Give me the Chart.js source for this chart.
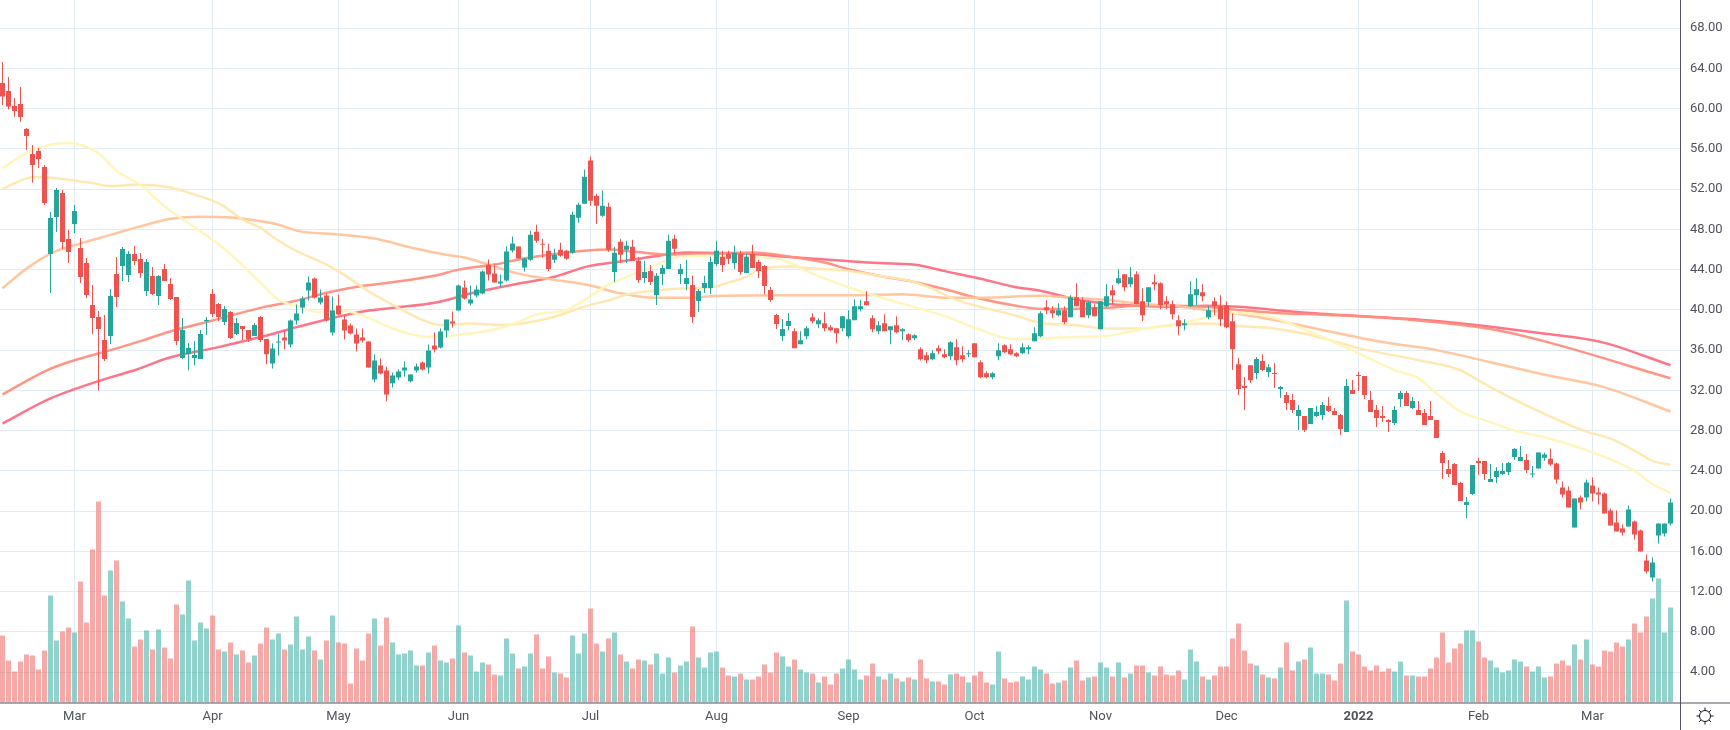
<!DOCTYPE html>
<html>
<head>
<meta charset="utf-8">
<script src="https://cdn.jsdelivr.net/npm/chart.js@4"></script>
<style>
  html, body { margin: 0; padding: 0; background: #fff; }
  #wrap { position: relative; width: 1730px; height: 730px; overflow: hidden; }
  canvas { display: block; }
  #gear { position: absolute; left: 1696px; top: 707px; }
</style>
</head>
<body>
<div id="wrap">
  <canvas id="chart" width="1730" height="730"></canvas>
  <svg id="gear" width="18" height="18" viewBox="0 0 18 18" fill="none" stroke="#131722" stroke-width="1">
    <circle cx="9" cy="9" r="5.5"/>
    <path d="M9 0.5V3.5M9 14.5V17.5M0.5 9H3.5M14.5 9H17.5M3 3L5.1 5.1M12.9 12.9L15 15M3 15L5.1 12.9M12.9 5.1L15 3"/>
  </svg>
</div>
<script>
// candles, one entry per trading day
const opens = [
  62.54,61.75,60.26,60.46,57.97,55.49,55.79,54.2,45.56,49.23,
  51.62,47.05,48.54,46.15,44.66,40.49,39.3,37.01,37.41,43.57,
  44.36,43.47,45.56,45.06,41.88,43.37,41.38,44.07,42.58,41.28,
  35.22,35.62,35.22,35.13,38.9,41.58,40.59,38.8,39.8,37.6,
  38.4,38.0,37.4,39.3,37.1,34.68,36.76,37.26,36.56,38.95,
  40.24,41.93,43.12,40.74,41.43,37.75,40.44,39.05,38.45,37.56,
  37.26,36.86,33.09,34.48,33.98,32.7,33.28,33.98,32.9,33.98,
  34.77,34.28,36.46,36.27,37.95,38.85,39.94,42.22,40.64,41.43,
  41.63,44.51,43.62,42.62,42.92,45.9,46.3,44.21,44.97,47.76,
  46.56,45.87,44.97,45.97,45.87,45.67,49.16,50.55,54.84,51.35,
  49.36,50.25,43.77,46.76,45.97,46.27,44.87,43.18,43.87,41.48,
  43.57,44.07,47.06,43.57,42.58,42.48,40.88,42.18,42.18,44.57,
  45.27,45.57,44.67,45.57,43.67,45.57,44.77,44.37,41.98,39.49,
  37.4,38.39,37.87,36.58,37.38,39.26,38.57,38.67,38.27,38.17,
  38.17,37.38,38.97,40.06,40.85,39.17,37.87,38.67,37.97,38.47,
  37.87,37.58,37.18,36.09,35.49,35.09,36.19,35.59,35.39,36.28,
  35.49,35.59,36.68,34.8,33.7,33.3,35.39,36.48,36.09,35.69,
  35.69,36.09,36.88,37.38,40.26,39.97,39.47,39.97,39.27,41.26,
  40.96,39.47,40.26,38.08,40.36,41.95,42.64,43.54,42.55,43.54,
  40.86,40.76,42.74,42.64,40.86,40.56,38.98,38.48,40.36,41.45,
  41.75,39.27,40.86,40.36,40.46,38.88,34.61,32.43,34.51,33.72,
  34.91,33.82,33.72,32.13,31.54,31.04,29.45,29.45,28.66,29.45,
  29.55,30.44,29.95,29.55,27.86,32.03,33.52,33.42,31.04,30.05,
  29.45,29.05,28.75,31.14,31.74,30.25,30.05,29.75,29.45,29.05,
  25.77,24.19,24.68,22.79,20.61,21.7,24.98,24.98,22.89,23.39,
  23.69,23.89,25.38,24.98,25.08,23.65,24.23,25.32,25.2,24.73,
  22.34,22.05,18.37,21.35,21.35,22.54,21.85,21.75,20.06,18.87,
  18.27,18.47,18.97,18.07,15.09,13.4,17.58,17.77,18.77
];
const closes = [
  61.19,60.2,59.76,59.17,57.28,54.4,54.99,50.62,49.13,51.91,
  46.75,45.76,49.83,43.27,41.48,39.2,38.1,35.13,41.38,41.28,
  46.05,45.56,44.86,43.67,44.76,41.58,43.37,42.87,41.09,36.91,
  38.0,36.22,35.52,37.6,39.0,39.6,39.3,40.09,37.2,38.7,
  38.1,37.1,38.5,37.0,35.6,36.17,36.86,36.96,38.95,39.64,
  41.13,42.72,41.23,41.23,38.95,39.94,39.54,37.95,37.66,36.66,
  36.96,34.28,34.97,33.68,31.6,33.48,33.88,34.28,33.58,34.38,
  34.08,35.97,36.07,37.85,39.05,38.65,42.42,41.13,41.03,42.03,
  43.81,43.52,42.72,42.82,45.8,46.6,45.11,45.11,47.46,46.86,
  46.47,44.07,45.47,45.37,45.07,49.46,50.45,53.24,50.85,50.35,
  50.35,45.97,45.67,45.47,46.37,44.87,42.98,43.77,42.78,43.38,
  44.17,46.86,46.07,44.07,43.18,39.29,41.88,42.68,44.77,45.87,
  44.47,45.07,45.67,43.77,45.27,44.17,43.87,42.38,40.98,38.59,
  38.09,38.89,36.19,36.98,38.17,38.87,38.97,38.17,37.97,37.68,
  39.36,39.07,40.36,40.36,40.46,38.07,38.47,37.87,38.37,37.77,
  38.07,36.98,37.48,35.09,34.99,35.69,35.89,35.29,36.78,34.99,
  35.09,35.69,35.29,33.3,33.3,33.7,35.99,35.79,35.59,35.39,
  36.28,36.28,37.68,39.66,39.96,39.67,39.97,38.78,41.26,40.36,
  39.27,40.76,39.37,40.86,41.36,41.45,43.14,42.25,43.24,40.56,
  39.47,42.25,42.55,40.46,40.56,39.57,38.38,38.68,41.55,42.05,
  41.36,39.97,40.36,39.07,38.28,36.1,32.13,32.23,33.02,35.11,
  34.02,34.31,33.62,32.33,30.74,30.05,30.05,28.06,30.25,29.85,
  30.54,29.95,29.55,28.16,32.43,31.64,33.42,31.54,29.85,29.25,
  29.25,28.85,30.05,31.74,30.44,30.94,29.55,28.56,29.05,27.26,
  24.78,23.69,22.6,21.01,20.91,24.58,24.78,23.69,23.19,23.99,
  23.99,24.78,26.17,25.38,24.09,23.75,25.82,25.62,24.63,23.14,
  21.65,20.36,21.25,20.85,22.84,21.75,21.65,19.76,18.57,17.97,
  17.87,20.16,17.68,15.99,14.0,14.89,18.77,18.77,20.85
];
const highs = [
  64.63,63.14,61.05,62.15,58.07,56.38,56.09,54.4,49.73,52.11,
  51.91,47.94,50.42,47.15,45.16,42.48,39.89,39.5,42.08,45.26,
  46.25,45.85,46.35,45.66,45.06,44.26,43.47,44.56,43.17,41.28,
  39.2,36.72,36.91,38.0,39.3,42.08,40.69,40.39,39.89,39.2,
  38.4,38.0,38.7,39.4,37.1,36.66,37.66,37.95,39.05,40.54,
  41.33,43.32,43.22,42.03,41.63,41.33,41.53,39.44,38.65,38.15,
  38.15,36.86,35.57,35.17,34.38,33.78,34.1,34.87,33.6,34.68,
  34.87,36.56,37.75,38.15,39.05,39.84,42.52,42.92,42.42,42.42,
  43.91,45.01,44.51,43.52,46.3,47.29,46.3,45.21,47.86,48.46,
  47.06,46.56,46.07,46.66,45.97,49.75,50.65,53.94,55.24,51.55,
  51.85,50.65,46.27,47.06,46.86,46.96,45.27,44.87,44.47,43.67,
  44.47,47.46,47.46,44.57,44.97,43.38,42.08,43.38,45.27,46.86,
  45.87,45.87,46.37,45.87,45.57,46.47,44.97,44.47,42.28,39.59,
  39.09,39.69,38.17,37.87,38.37,39.66,39.17,39.76,38.47,38.17,
  39.36,39.96,41.05,40.95,41.85,39.46,38.87,39.56,38.37,39.36,
  38.17,37.68,37.58,36.28,35.79,35.99,36.48,36.09,36.88,37.08,
  36.38,35.99,36.68,35.0,33.9,33.8,36.68,36.58,36.58,35.79,
  36.68,36.48,38.27,39.86,40.95,40.36,40.66,40.36,41.45,42.64,
  41.26,40.86,40.56,40.86,42.55,42.45,44.03,43.54,44.23,43.83,
  42.15,42.25,43.54,42.74,41.36,40.96,39.47,39.07,42.84,43.14,
  42.55,40.36,41.26,41.45,40.86,39.67,35.21,33.32,34.51,35.31,
  35.6,34.61,34.71,32.43,31.83,31.64,30.54,29.45,30.25,30.44,
  30.84,31.34,30.25,29.65,33.13,33.03,33.85,33.42,31.93,30.54,
  30.44,29.15,30.44,31.93,31.93,31.34,30.94,30.15,30.94,29.05,
  25.97,25.08,24.78,22.89,21.4,24.58,25.28,24.98,24.68,24.38,
  24.78,24.88,26.27,26.47,25.68,24.5,25.82,25.82,26.22,24.83,
  22.94,22.44,21.25,21.55,23.14,23.34,22.34,21.85,20.26,20.06,
  18.67,20.56,19.07,18.17,15.69,15.39,18.77,18.77,21.25
];
const lows = [
  60.36,59.9,59.2,58.7,55.89,52.64,54.1,50.42,41.68,47.74,
  46.05,44.66,47.64,42.68,41.19,37.61,32.0,34.93,36.62,40.29,
  42.87,42.77,44.46,43.17,41.38,41.48,40.49,42.87,40.99,36.52,
  35.12,34.0,34.5,35.13,37.5,39.3,38.9,38.5,37.1,37.5,
  37.0,36.8,37.4,36.8,34.6,34.18,35.47,36.07,36.27,38.55,
  39.64,40.93,41.13,40.54,38.85,37.46,39.44,37.06,37.56,35.87,
  36.76,34.28,32.8,33.58,30.9,32.3,33.0,33.38,32.8,33.78,
  33.98,33.68,35.77,36.17,37.26,38.25,39.94,41.03,40.44,41.23,
  41.53,42.92,42.72,42.22,42.82,45.7,45.11,43.81,44.87,46.66,
  45.17,43.87,44.67,45.27,44.97,45.57,48.66,50.55,50.35,48.56,
  49.26,45.77,42.78,44.67,44.67,44.87,42.68,42.68,42.48,40.48,
  42.48,44.07,45.57,42.58,41.98,38.69,39.79,41.68,41.58,44.37,
  43.77,44.57,44.07,43.48,43.67,44.17,43.18,41.58,40.78,38.09,
  36.9,37.99,36.19,36.58,37.08,38.67,38.17,37.87,37.87,36.68,
  37.87,37.18,38.97,39.86,40.46,37.77,37.58,37.87,36.58,37.68,
  36.98,36.78,36.98,34.98,34.7,35.0,35.59,35.19,34.99,34.5,
  34.8,35.29,35.29,33.2,33.2,33.1,34.99,35.69,35.49,35.29,
  35.59,35.59,36.88,37.28,39.56,39.17,39.37,38.58,39.27,40.36,
  39.27,39.17,39.37,38.08,40.26,40.56,42.55,41.85,42.25,40.56,
  38.88,40.36,41.95,40.07,40.07,39.07,37.49,37.98,40.26,40.46,
  40.86,39.07,39.47,38.38,38.18,34.02,31.54,30.05,32.73,33.12,
  33.92,33.32,32.23,31.24,30.05,29.75,28.06,27.86,28.66,29.35,
  29.05,29.85,29.55,27.56,27.86,31.64,31.93,31.14,29.85,28.36,
  28.85,27.86,28.56,30.34,30.44,30.15,29.55,28.56,29.05,27.26,
  23.19,23.39,22.6,21.01,19.32,21.6,23.59,23.09,22.89,22.79,
  23.59,23.59,25.08,24.98,23.79,23.35,24.23,25.0,24.5,22.74,
  21.35,20.36,18.37,20.16,20.95,20.95,20.66,19.76,18.57,17.97,
  17.58,18.47,17.18,15.99,13.8,13.0,16.78,17.48,18.57
];
const volumes = [
  6.7,4.2,3.1,4.1,4.8,4.7,3.3,5.2,10.7,6.2,
  7.1,7.5,7.0,12.1,8.0,15.3,20.1,10.7,13.2,14.2,
  10.1,8.4,5.6,6.3,7.2,5.3,7.3,5.5,4.4,9.8,
  8.8,12.2,6.2,8.0,7.4,8.7,5.3,5.1,6.0,4.8,
  5.2,4.0,4.7,5.9,7.5,6.3,6.9,5.3,5.8,8.6,
  5.3,6.6,5.2,4.3,6.2,8.7,6.0,5.9,1.9,5.4,
  4.2,6.9,8.4,5.7,8.5,6.0,4.8,4.9,5.2,3.7,
  3.7,5.0,5.7,4.2,4.0,4.4,7.7,5.0,4.7,3.1,
  4.0,3.8,2.8,2.7,6.4,4.9,3.4,3.6,4.9,6.8,
  3.4,4.6,3.0,2.9,2.5,6.7,4.9,6.9,9.4,5.9,
  5.1,6.4,7.0,4.8,4.1,3.4,4.3,4.2,3.8,4.9,
  2.9,4.5,3.0,3.7,4.1,7.6,4.5,3.5,5.0,5.1,
  3.5,2.7,2.6,2.9,2.3,2.3,2.6,3.8,3.0,5.0,
  4.6,3.6,4.3,3.3,3.0,2.9,2.0,2.6,1.8,2.9,
  3.4,4.3,3.3,2.3,2.7,3.9,2.6,2.3,2.9,2.4,
  2.1,2.5,2.3,4.3,2.4,2.1,2.1,1.8,2.8,2.9,
  2.6,2.0,2.7,3.1,2.0,1.8,5.1,2.4,2.0,2.1,
  2.6,2.3,3.6,3.3,2.9,1.9,2.0,2.2,3.5,4.2,
  2.2,2.5,2.6,4.0,3.5,2.6,4.0,2.5,2.9,3.7,
  3.7,3.0,2.7,3.6,2.8,2.7,3.2,2.3,5.3,4.1,
  2.6,2.3,2.7,3.6,3.6,6.4,7.9,5.2,3.9,3.7,
  2.8,2.5,2.4,3.5,6.0,3.2,4.1,4.3,5.5,2.9,
  2.9,2.8,2.2,3.9,10.2,5.1,4.8,3.6,3.2,3.7,
  3.1,3.4,3.1,4.1,2.7,2.7,2.6,2.6,3.4,4.5,
  7.0,4.0,5.4,5.9,7.2,7.2,6.1,4.5,4.2,3.5,
  3.0,3.2,4.3,4.1,3.6,3.1,3.6,2.5,2.6,3.9,
  4.2,3.7,5.8,4.3,6.3,3.8,3.6,5.2,5.1,6.0,
  5.6,6.3,7.9,7.0,8.6,10.4,12.4,7.0,9.5
];

const maLight = [[0,54.07],[4,55.6],[8,56.4],[11,56.58],[16,55.56],[19,53.83],[23,52.4],[27,50.3],[33,47.8],[37.5,45.8],[43,42.7],[46,41.0],[49,40.4],[52.5,39.8],[57,39.9],[61,39.2],[65,38.15],[71,37.3],[76,37.5],[82,38.05],[86,38.8],[89,39.55],[94,40],[97.4,41.15],[101,42.5],[105,43.5],[109,44.5],[113,45.3],[117.5,45.37],[121,45.3],[129,45.1],[135,43.6],[140.7,42.3],[146,41.3],[151.8,40.3],[157.4,39.3],[163,38],[168.5,37.1],[173,37.15],[178.5,37.3],[184,37.4],[189.5,38.05],[195,38.5],[200.5,39.2],[206,39.7],[212,39.2],[218,37.8],[226,35.7],[232,34.02],[236,33.2],[238.6,31.9],[243,29.9],[247,29.05],[252,28],[257,27.35],[265,25.85],[272,24],[275,22.7],[278,21.8]];
const maYellow = [[0,52],[4,53.07],[5.7,53.2],[9.6,53.04],[15,52.6],[18,52.3],[22,52.44],[27.5,52.2],[31,51.65],[36.3,50.5],[40.2,48.9],[43,48.15],[45.7,47],[49,45.85],[54,44.5],[57.3,43.35],[61,41.85],[65.7,40.3],[70,39],[73,38.5],[78,38.65],[83,38.5],[86,38.6],[91.8,39.3],[97.4,40.4],[100.7,40.9],[104.6,41.6],[108.5,41.9],[114,42.15],[117.4,42.2],[120.7,42.65],[124,43.3],[126,44],[131.3,44.3],[135,44.1],[140.7,43.9],[146,43.4],[151.8,42.8],[155,42.1],[158.5,41.1],[163,40.3],[168.5,39.5],[173,38.7],[178.5,38.5],[184,38.15],[189.5,38.15],[195,38.5],[200.5,38.65],[206,38.4],[212,38.15],[218,37.5],[226,36.2],[236,35],[243,34],[246,33],[249,32],[254,30.5],[263.5,28],[268,27.2],[272.5,25.85],[275,25],[278,24.6]];
const maPeach = [[0,42.15],[4,44.1],[8,45.6],[13,46.6],[18,47.45],[23,48.3],[28,49.05],[33,49.25],[38.5,49.15],[43,48.8],[45.7,48.5],[49.6,47.8],[56,47.5],[62,47.1],[68,46.2],[74.7,45.4],[77,45.2],[81,44.5],[86,43.6],[91.8,43],[97.4,42.5],[103,41.65],[108.5,41.2],[114,41.2],[119.6,41.4],[131,41.45],[140.7,41.45],[150,41.55],[157.4,41.2],[163,41.2],[173,41.4],[178.5,41.2],[184,41],[189.5,40.6],[195,40.4],[200.5,40],[206,39.6],[212,39],[218,38.25],[230,36.8],[239,36],[248,34.8],[257.5,33.5],[266.5,32.4],[278,29.9]];
const maCoral = [[0,31.6],[7.4,34],[12,35],[18,36],[23.5,37],[28.5,37.95],[35,38.95],[43,40.2],[48.5,40.85],[54,41.7],[59.6,42.35],[65,42.75],[72.4,43.45],[76,44],[82,44.5],[86,45],[89,45.3],[97.4,45.9],[101,46],[105,45.8],[110.7,45.5],[119.6,45.6],[125,45.7],[131,45.3],[137,44.7],[140.7,44.1],[146,43.4],[151.8,42.8],[157.4,42],[163,41.1],[168.5,40.45],[173,40.1],[178.5,40.1],[184,40.2],[189.5,40.4],[195,40.4],[200.5,40.3],[206,40],[212,39.7],[221,39.5],[235,39],[248,38.1],[257.5,36.8],[278,33.2]];
const maPink = [[0,28.7],[8,31.2],[18,33.3],[22,34],[27.5,35.2],[36,36.3],[43,37.3],[48.5,38.2],[54,39.05],[59.6,39.8],[65,40.2],[72,40.7],[78.5,41.7],[85,42.5],[92,43.3],[97.4,44.3],[103,44.8],[108.5,45.3],[114,45.7],[120,45.65],[125,45.55],[130,45.3],[140.7,44.85],[146,44.65],[151.8,44.5],[157.4,43.8],[163,43.1],[168.5,42.3],[173,41.9],[178.5,41.1],[184,40.6],[189.5,40.4],[195,40.3],[200.5,40.4],[206,40.3],[212,40],[218,39.7],[239,38.9],[257.5,37.6],[266.5,36.8],[278,34.5]];

// axes
const priceTicks = [4,8,12,16,20,24,28,32,36,40,44,48,52,56,60,64,68];
const monthTicks = [12,35,56,76,98,119,141,162,183,204,226,246,265];
const monthLabels = ['Mar','Apr','May','Jun','Jul','Aug','Sep','Oct','Nov','Dec','2022','Feb','Mar'];

const UP = '#26a69a';
const DOWN = '#ef5350';
const UP_VOL = 'rgba(38,166,154,0.5)';
const DOWN_VOL = 'rgba(239,83,80,0.5)';
const GRID = '#e1ecf2';
const TEXT = '#50535e';
const AXIS_LINE = '#50535e';
const FONT = 'Roboto, "Liberation Sans", sans-serif';

const days = opens.map((_, i) => i);
const candleColor = days.map(i => closes[i] >= opens[i] ? UP : DOWN);
const volColor = days.map(i => closes[i] >= opens[i] ? UP_VOL : DOWN_VOL);

function maSet(points, color) {
  return {
    type: 'line',
    data: points.map(p => ({ x: p[0], y: p[1] })),
    yAxisID: 'y',
    borderColor: color,
    borderWidth: 2.5,
    pointRadius: 0,
    cubicInterpolationMode: 'monotone',
    order: 2
  };
}

// drop the half-label padding chart.js keeps around the plot
function noPadding(axis) {
  axis.paddingTop = 0;
  axis.paddingBottom = 0;
  axis.paddingLeft = 0;
  axis.paddingRight = 0;
}

// dark lines along the price and time scales
const scaleLines = {
  id: 'scaleLines',
  afterDraw(chart) {
    const { ctx, chartArea, width, height } = chart;
    ctx.save();
    ctx.strokeStyle = AXIS_LINE;
    ctx.lineWidth = 1;
    ctx.beginPath();
    ctx.moveTo(0, chartArea.bottom + 0.5);
    ctx.lineTo(width, chartArea.bottom + 0.5);
    ctx.moveTo(chartArea.right + 0.5, 0);
    ctx.lineTo(chartArea.right + 0.5, height);
    ctx.stroke();
    ctx.restore();
  }
};

new Chart(document.getElementById('chart'), {
  data: {
    datasets: [
      {
        type: 'bar',
        data: days.map(i => ({ x: i, y: volumes[i] })),
        yAxisID: 'yVol',
        backgroundColor: volColor,
        barThickness: 5,
        maxBarThickness: 5,
        inflateAmount: 0,
        grouped: false,
        order: 3
      },
      maSet(maLight, 'rgba(255,245,185,0.95)'),
      maSet(maYellow, 'rgba(255,232,175,0.95)'),
      maSet(maPeach, 'rgba(255,195,155,0.95)'),
      maSet(maCoral, 'rgba(255,143,125,0.95)'),
      maSet(maPink, 'rgba(255,110,130,0.95)'),
      {
        type: 'bar', // wicks
        data: days.map(i => ({ x: i, y: [lows[i], highs[i]] })),
        yAxisID: 'y',
        backgroundColor: candleColor,
        barThickness: 1,
        maxBarThickness: 1,
        inflateAmount: 0,
        grouped: false,
        order: 1
      },
      {
        type: 'bar', // bodies
        data: days.map(i => ({ x: i, y: [opens[i], closes[i]] })),
        yAxisID: 'y',
        backgroundColor: candleColor,
        barThickness: 5,
        maxBarThickness: 5,
        inflateAmount: 0,
        grouped: false,
        order: 0
      }
    ]
  },
  options: {
    responsive: false,
    animation: false,
    events: [],
    layout: { padding: 0 },
    plugins: { legend: { display: false }, tooltip: { enabled: false } },
    scales: {
      x: {
        type: 'linear',
        offset: false,
        min: -0.41667,
        max: 279.58333,
        afterBuildTicks: axis => { axis.ticks = monthTicks.map(v => ({ value: v })); },
        afterFit: axis => { axis.height = 27.5; noPadding(axis); },
        grid: { color: GRID, drawTicks: false, offset: false },
        border: { display: false },
        ticks: {
          autoSkip: false,
          maxRotation: 0,
          padding: 6,
          color: TEXT,
          font: ctx => ({
            family: FONT,
            size: 13,
            weight: ctx.tick && ctx.tick.value === 226 ? 'bold' : 'normal'
          }),
          callback: v => monthLabels[monthTicks.indexOf(v)]
        }
      },
      y: {
        position: 'right',
        min: 0.99,
        max: 70.79,
        afterBuildTicks: axis => { axis.ticks = priceTicks.map(v => ({ value: v })); },
        afterFit: axis => { axis.width = 50; noPadding(axis); },
        grid: { color: GRID, drawTicks: false },
        border: { display: false },
        ticks: {
          padding: 10,
          color: TEXT,
          font: { family: FONT, size: 13 },
          callback: v => v.toFixed(2)
        }
      },
      yVol: {
        display: false,
        min: 0,
        max: 70.25
      }
    }
  },
  plugins: [scaleLines]
});
</script>
</body>
</html>
